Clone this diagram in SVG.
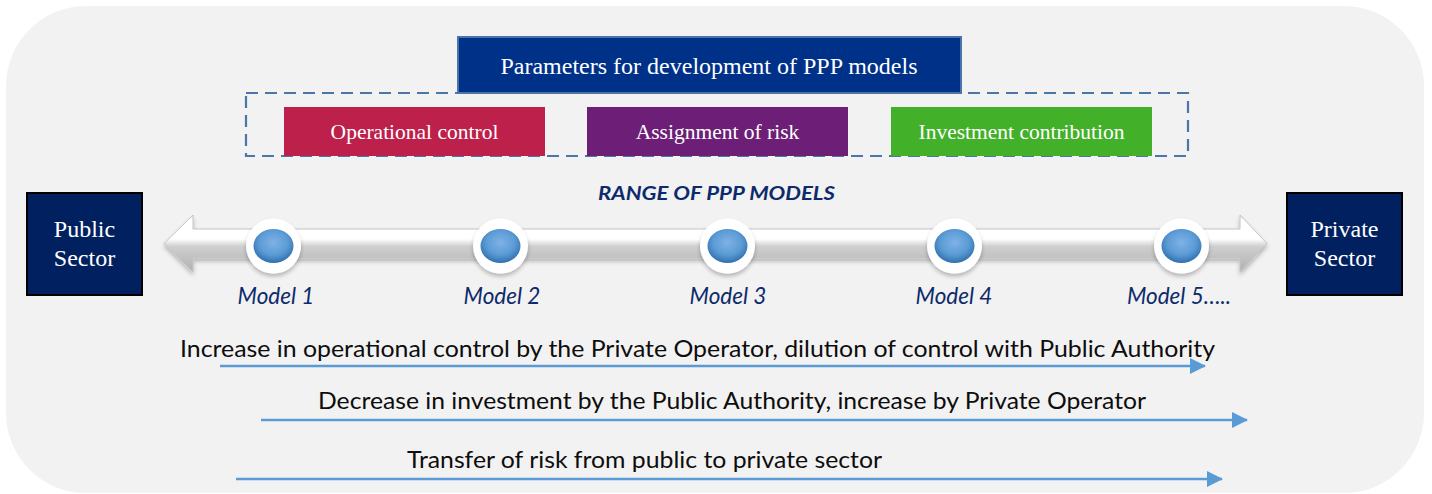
<svg xmlns="http://www.w3.org/2000/svg" width="1432" height="494" viewBox="0 0 1432 494">
<style>
.serif{font-family:"Liberation Serif","Times New Roman",serif;fill:#ffffff;text-anchor:middle}
.model{font-family:Lato,"Open Sans",sans-serif;font-style:italic;font-size:22.5px;fill:#0d2b6b;text-anchor:middle}
.body{font-family:Lato,"Open Sans",sans-serif;font-size:23px;fill:#0d0d0d}
.flow{stroke:#5b9bd5;stroke-width:2.5;fill:none}
</style>
<defs>
<linearGradient id="shaft" x1="0" y1="0" x2="0" y2="1">
<stop offset="0" stop-color="#e2e2e2"/>
<stop offset="0.08" stop-color="#ffffff"/>
<stop offset="0.42" stop-color="#ffffff"/>
<stop offset="0.55" stop-color="#cfcfcf"/>
<stop offset="1" stop-color="#b0b0b0"/>
</linearGradient>
<radialGradient id="ball" cx="0.5" cy="0.4" r="0.6">
<stop offset="0" stop-color="#7fb2e5"/>
<stop offset="0.6" stop-color="#5b9bd5"/>
<stop offset="1" stop-color="#2f6fad"/>
</radialGradient>
<filter id="sh" x="-10%" y="-30%" width="120%" height="180%">
<feGaussianBlur in="SourceAlpha" stdDeviation="2"/>
<feOffset dy="3"/>
<feComponentTransfer><feFuncA type="linear" slope="0.25"/></feComponentTransfer>
<feMerge><feMergeNode/><feMergeNode in="SourceGraphic"/></feMerge>
</filter>
<marker id="ah" viewBox="0 0 16 16" markerWidth="16" markerHeight="16" refX="15" refY="8" orient="auto" markerUnits="userSpaceOnUse">
<path d="M0,0 L16,8 L0,16 Z" fill="#5b9bd5"/>
</marker>
</defs>

<rect x="0" y="0" width="1432" height="494" fill="#ffffff"/>
<rect id="background" x="6" y="6" width="1418" height="487" rx="80" ry="80" fill="#f2f2f2"/>

<g id="title">
<rect x="458" y="37" width="503" height="56" fill="#003189" stroke="#4a74a8" stroke-width="2"/>
<text class="serif" x="709" y="74" font-size="24">Parameters for development of PPP models</text>
</g>

<g id="parameters-frame">
<rect x="246" y="93" width="942" height="63" fill="none" stroke="#4a76a8" stroke-width="2.2" stroke-dasharray="12 7"/>
</g>

<g id="operational-control">
<rect x="284" y="107" width="261" height="49" fill="#bc204b"/>
<text class="serif" x="414.5" y="139" font-size="21.5">Operational control</text>
</g>
<g id="assignment-of-risk">
<rect x="587" y="107" width="261" height="49" fill="#6d1f77"/>
<text class="serif" x="717.5" y="139" font-size="21.5">Assignment of risk</text>
</g>
<g id="investment-contribution">
<rect x="891" y="107" width="261" height="49" fill="#43b02a"/>
<text class="serif" x="1021.5" y="139" font-size="21.5">Investment contribution</text>
</g>

<g id="range-label">
<text x="716.5" y="200" font-family="Lato,'Open Sans',sans-serif" font-size="18" font-weight="bold" font-style="italic" fill="#0d2b6b" text-anchor="middle" textLength="237" lengthAdjust="spacingAndGlyphs">RANGE OF PPP MODELS</text>
</g>

<g id="public-sector">
<rect x="27" y="193" width="115" height="102" fill="#002060" stroke="#000000" stroke-width="2"/>
<text class="serif" x="84.5" y="237" font-size="24">Public</text>
<text class="serif" x="84.5" y="266" font-size="24">Sector</text>
</g>
<g id="private-sector">
<rect x="1287" y="193" width="115" height="102" fill="#002060" stroke="#000000" stroke-width="2"/>
<text class="serif" x="1344.5" y="237" font-size="24">Private</text>
<text class="serif" x="1344.5" y="266" font-size="24">Sector</text>
</g>

<g id="timeline">
<path d="M164,243.5 L193,215 L193,229 L1240,229 L1240,215 L1267,243.5 L1240,272 L1240,258 L193,258 L193,272 Z" fill="url(#shaft)" stroke="#c4c4c4" stroke-width="1" filter="url(#sh)"/>
</g>

<g id="model-1">
<circle cx="273.5" cy="246" r="27.5" fill="#ffffff" filter="url(#sh)"/>
<ellipse cx="273.5" cy="246" rx="20" ry="17" fill="url(#ball)"/>
<text class="model" x="276" y="304">Model 1</text>
</g>
<g id="model-2">
<circle cx="500.5" cy="246" r="27.5" fill="#ffffff" filter="url(#sh)"/>
<ellipse cx="500.5" cy="246" rx="20" ry="17" fill="url(#ball)"/>
<text class="model" x="502" y="304">Model 2</text>
</g>
<g id="model-3">
<circle cx="727.5" cy="246" r="27.5" fill="#ffffff" filter="url(#sh)"/>
<ellipse cx="727.5" cy="246" rx="20" ry="17" fill="url(#ball)"/>
<text class="model" x="728" y="304">Model 3</text>
</g>
<g id="model-4">
<circle cx="954.5" cy="246" r="27.5" fill="#ffffff" filter="url(#sh)"/>
<ellipse cx="954.5" cy="246" rx="20" ry="17" fill="url(#ball)"/>
<text class="model" x="954" y="304">Model 4</text>
</g>
<g id="model-5">
<circle cx="1181.5" cy="246" r="27.5" fill="#ffffff" filter="url(#sh)"/>
<ellipse cx="1181.5" cy="246" rx="20" ry="17" fill="url(#ball)"/>
<text class="model" x="1179" y="304">Model 5…..</text>
</g>

<g id="connectors">
<line class="flow" x1="220" y1="366" x2="1205" y2="366" marker-end="url(#ah)"/>
<line class="flow" x1="261" y1="420" x2="1247" y2="420" marker-end="url(#ah)"/>
<line class="flow" x1="236" y1="479" x2="1222" y2="479" marker-end="url(#ah)"/>
</g>

<g id="flow-labels">
<text class="body" x="180" y="357" textLength="1035" lengthAdjust="spacingAndGlyphs">Increase in operational control by the Private Operator, dilution of control with Public Authority</text>
<text class="body" x="318" y="409" textLength="828" lengthAdjust="spacingAndGlyphs">Decrease in investment by the Public Authority, increase by Private Operator</text>
<text class="body" x="407" y="468" textLength="475" lengthAdjust="spacingAndGlyphs">Transfer of risk from public to private sector</text>
</g>
</svg>
